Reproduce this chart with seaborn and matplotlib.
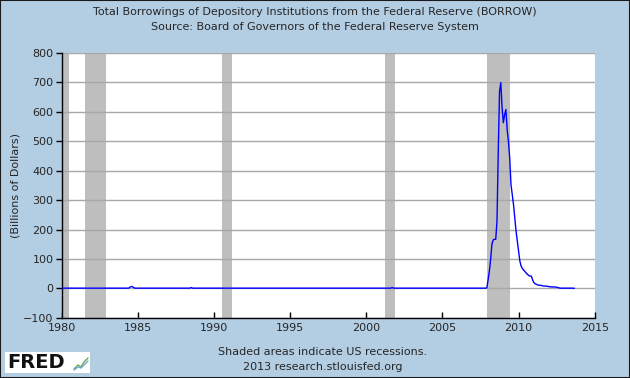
import numpy as np
import pandas as pd
import seaborn as sns
import matplotlib.pyplot as plt

# Fechas (años decimales) y valores en miles de millones de dólares
fechas_previas = [1980.0, 1984.4, 1984.5, 1984.6, 1984.7, 1984.8, 1988.4, 1988.5, 1988.6,
                  2001.6, 2001.7, 2001.8, 2007.83]
valores_previos = [1, 1, 5, 7, 4, 1, 1, 3, 1, 1, 3, 1, 1]

# Serie mensual desde dic 2007 hasta sep 2013
valores_mensuales = [2, 30, 60, 100, 150, 165, 167, 167, 230, 467, 670, 699,
                     614, 563, 590, 608, 540, 500, 444, 353, 319, 285, 240, 195,
                     161, 127, 93, 76, 68, 62, 58, 52, 48, 44, 42, 42,
                     30, 20, 16, 14, 12, 11, 11, 10, 9, 8, 8, 8,
                     7, 6, 6, 5, 5, 5, 5, 4, 3, 2, 1, 1,
                     1, 1, 1, 1, 1, 1, 1, 1, 1, 0.5]
inicio_mensual = 2007 + 11 / 12

recesiones = [(1980.0, 1980.5), (1981.5, 1982.9), (1990.5, 1991.2),
              (2001.2, 2001.9), (2007.9, 2009.46)]

fechas = fechas_previas + [inicio_mensual + i / 12 for i in range(len(valores_mensuales))]
valores = valores_previos + valores_mensuales
df = pd.DataFrame({"fecha": fechas, "valor": valores})

fondo = "#b3cde3"
sns.set_style("white")
plt.rcParams['font.family'] = ['DejaVu Sans']

fig = plt.figure(figsize=(6.3, 3.78), dpi=100, facecolor=fondo)
ax = fig.add_axes([0.098, 0.159, 0.846, 0.701])
ax.set_facecolor("white")

for ini, fin in recesiones:
    ax.axvspan(ini, fin, color="#bebebe", lw=0, zorder=1)

for y in range(-100, 801, 100):
    ax.axhline(y, color="#a8a8a8", lw=1, zorder=1.5)

sns.lineplot(data=df, x="fecha", y="valor", ax=ax, color="#0000ff", lw=1, zorder=3)

ax.set_xlim(1980, 2015)
ax.set_ylim(-100, 800)
ax.set_xticks(range(1980, 2016, 5))
ax.set_yticks(range(-100, 801, 100))
ax.tick_params(axis="x", direction="in", length=4, width=1, labelsize=8, pad=4, color="black")
ax.tick_params(axis="y", direction="out", length=4, width=1, labelsize=8, pad=2, color="black")
ax.tick_params(bottom=True, left=True)
for lado in ["top", "right"]:
    ax.spines[lado].set_visible(False)
for lado in ["left", "bottom"]:
    ax.spines[lado].set_color("black")
    ax.spines[lado].set_linewidth(1)
ax.set_xlabel("")
ax.set_ylabel("(Billions of Dollars)", fontsize=8)
ax.yaxis.set_label_coords(-0.078, 0.5)

fig.text(0.5, 0.968, "Total Borrowings of Depository Institutions from the Federal Reserve (BORROW)",
         ha="center", va="center", fontsize=8)
fig.text(0.5, 0.928, "Source: Board of Governors of the Federal Reserve System",
         ha="center", va="center", fontsize=8)
fig.text(0.512, 0.068, "Shaded areas indicate US recessions.", ha="center", va="center", fontsize=8)
fig.text(0.512, 0.028, "2013 research.stlouisfed.org", ha="center", va="center", fontsize=8)

# Logo FRED: caja blanca, texto y pequeño icono
logo = fig.add_axes([5 / 630, 5 / 378, 85 / 630, 21 / 378])
logo.set_facecolor("white")
logo.set_xlim(0, 85)
logo.set_ylim(0, 21)
logo.axis("off")
logo.add_patch(plt.Rectangle((0, 0), 85, 21, color="white", zorder=0))
logo.text(2, 10.5, "FRED", ha="left", va="center", fontsize=14, fontweight="bold",
          color="#111111")
logo.plot([69, 73, 76, 79, 83], [4, 8, 6, 11, 15], color="#6aa84f", lw=1)
logo.plot([69, 73, 76, 79, 83], [3, 6, 5, 8, 12], color="#6fa8dc", lw=1)

# Borde oscuro de la figura
fig.patches.append(plt.Rectangle((0, 0), 1, 1, transform=fig.transFigure, fill=False,
                                 edgecolor="#1a1a1a", lw=1.5))

fig.savefig("out.png", dpi=100, facecolor=fondo)
